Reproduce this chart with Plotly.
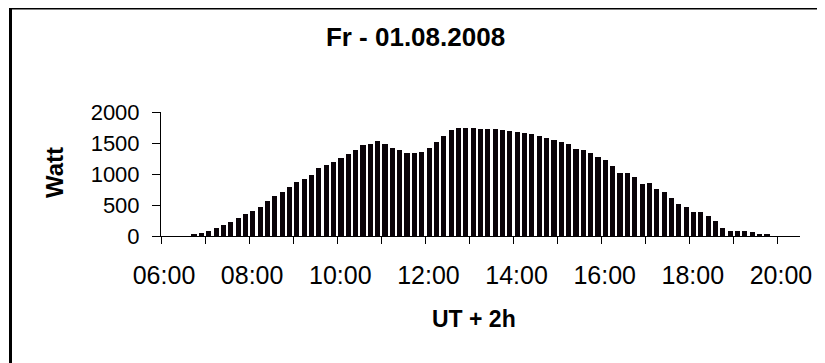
import plotly.graph_objs as go

# 10-minute intervals (start time) and mean power in Watt
times = [
    "06:40", "06:50", "07:00", "07:10", "07:20", "07:30", "07:40", "07:50",
    "08:00", "08:10", "08:20", "08:30", "08:40", "08:50", "09:00", "09:10",
    "09:20", "09:30", "09:40", "09:50", "10:00", "10:10", "10:20", "10:30",
    "10:40", "10:50", "11:00", "11:10", "11:20", "11:30", "11:40", "11:50",
    "12:00", "12:10", "12:20", "12:30", "12:40", "12:50", "13:00", "13:10",
    "13:20", "13:30", "13:40", "13:50", "14:00", "14:10", "14:20", "14:30",
    "14:40", "14:50", "15:00", "15:10", "15:20", "15:30", "15:40", "15:50",
    "16:00", "16:10", "16:20", "16:30", "16:40", "16:50", "17:00", "17:10",
    "17:20", "17:30", "17:40", "17:50", "18:00", "18:10", "18:20", "18:30",
    "18:40", "18:50", "19:00", "19:10", "19:20", "19:30", "19:40",
]
watt = [
    26, 48, 85, 133, 176, 230, 283, 353,
    406, 465, 562, 642, 711, 786, 867, 915,
    989, 1091, 1139, 1197, 1257, 1316, 1390, 1460,
    1492, 1525, 1492, 1422, 1380, 1332, 1332, 1348,
    1422, 1519, 1621, 1711, 1749, 1749, 1749, 1733,
    1733, 1733, 1717, 1701, 1679, 1669, 1647, 1621,
    1583, 1551, 1519, 1481, 1406, 1380, 1342, 1278,
    1225, 1133, 1011, 1011, 957, 835, 851, 754,
    716, 610, 514, 465, 395, 395, 315, 250,
    128, 80, 80, 80, 58, 32, 26,
]
hour_ticks = list(range(6, 21))
hour_labels = ["%02d:00" % h if h % 2 == 0 else "" for h in hour_ticks]

FONT = "Arial, Liberation Sans, sans-serif"

x_hours = [int(t[:2]) + int(t[3:]) / 60.0 for t in times]
slot = 10 / 60.0
bw = slot * 0.7

bars = go.Bar(
    x=x_hours,
    y=watt,
    width=bw,
    offset=(slot - bw) / 2,
    marker=dict(color='#0a0308', line=dict(width=0)),
    showlegend=False,
)

fig = go.Figure(data=[bars])

# page body has an 8px margin, so the figure is 8px smaller each way
fig.update_layout(
    width=817,
    height=355,
    margin=dict(l=153, r=25, t=104, b=127),
    paper_bgcolor='white',
    plot_bgcolor='white',
    bargap=0,
    font=dict(family=FONT, color='black'),
    title=dict(
        text='<b>Fr - 01.08.2008</b>',
        x=407.5 / 817, xref='container', xanchor='center',
        y=1 - 29 / 355, yref='container', yanchor='middle',
        font=dict(size=26, family=FONT, color='black'),
    ),
    xaxis=dict(
        range=[6, 20.5],
        tickvals=hour_ticks,
        ticktext=hour_labels,
        ticks='outside',
        ticklen=7,
        tickcolor='black',
        tickwidth=1,
        showline=True,
        linecolor='black',
        linewidth=1,
        showgrid=False,
        zeroline=False,
        tickfont=dict(size=25, family=FONT, color='black'),
        ticklabelshift=3,
        ticklabelstandoff=10,
    ),
    yaxis=dict(
        range=[0, 2000],
        tickvals=[0, 500, 1000, 1500, 2000],
        ticks='outside',
        ticklen=8,
        tickcolor='black',
        tickwidth=1,
        showline=True,
        linecolor='black',
        linewidth=1,
        showgrid=False,
        zeroline=False,
        tickfont=dict(size=22, family=FONT, color='black'),
        ticklabelstandoff=8,
    ),
    annotations=[
        dict(text='<b>UT + 2h</b>', xref='paper', yref='paper',
             x=(474 - 161) / 639, y=(236 - 319) / 124,
             xanchor='center', yanchor='middle', showarrow=False,
             font=dict(size=23, family=FONT, color='black')),
        dict(text='<b>Watt</b>', xref='paper', yref='paper',
             x=(54 - 161) / 639, y=(236 - 173) / 124, textangle=-90,
             xanchor='center', yanchor='middle', showarrow=False,
             font=dict(size=24, family=FONT, color='black')),
    ],
    shapes=[
        dict(type='rect', xref='paper', yref='paper',
             x0=(10.5 - 161) / 639, x1=(821 - 161) / 639,
             y0=(236 - 380) / 124, y1=(236 - 8) / 124,
             line=dict(color='black', width=3), fillcolor='rgba(0,0,0,0)',
             layer='below'),
    ],
)

fig.write_html("out.html")
